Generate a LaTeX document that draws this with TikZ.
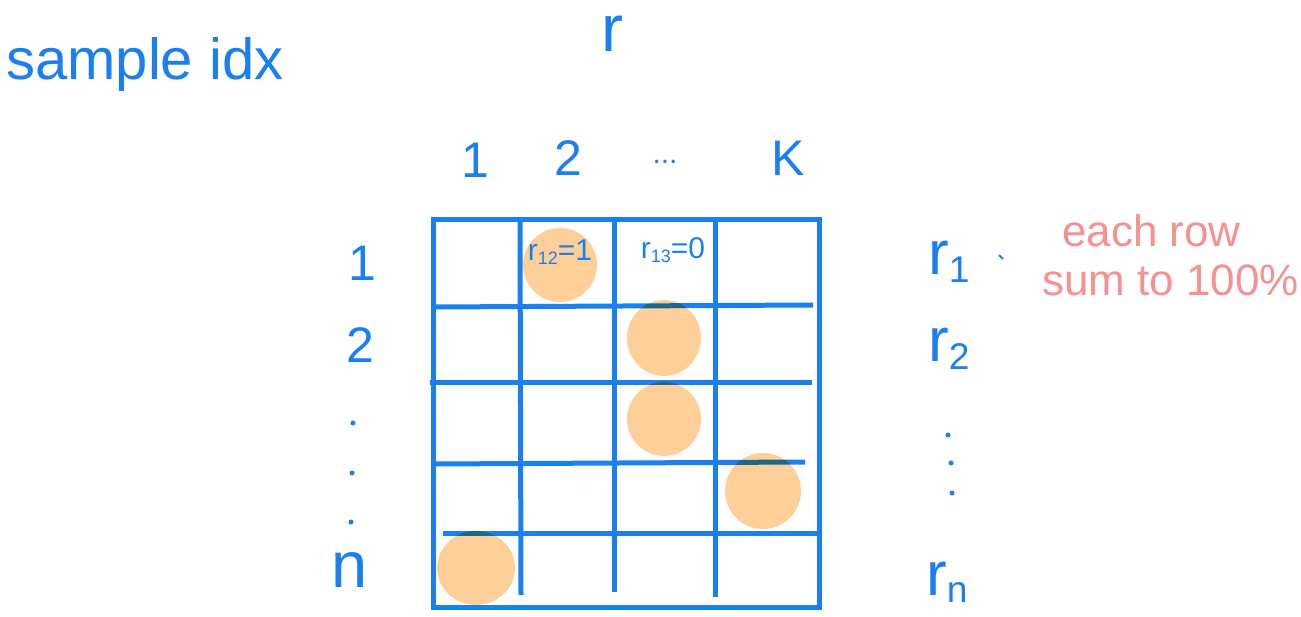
\documentclass[tikz,border=0pt]{standalone}
\usepackage{fontspec}
\setmainfont{Liberation Sans}
\definecolor{penblue}{HTML}{1A7FF0}
\definecolor{penred}{HTML}{F79191}
\definecolor{blob}{HTML}{FFCF99}
\newcommand\rix[1]{r\raisebox{-0.12em}{\scalebox{0.6}{#1}}}
\begin{document}
\begin{tikzpicture}[x=1pt, y=-1pt,
  ink/.style={penblue, line width=5pt},
  blobfill/.style={fill=blob, blend mode=multiply},
  lbl/.style={text=penblue, inner sep=0pt, font=\fontsize{#1}{#1}\selectfont},
  note/.style={text=penred, inner sep=0pt, anchor=base west, font=\fontsize{44}{44}\selectfont}]
\useasboundingbox (0,0) rectangle (1301,617);
% grid of r
\draw[ink] (433,220) rectangle (819,607);
\draw[ink] (520,220) -- (521,595);
\draw[ink] (614,220) -- (614,592);
\draw[ink] (715,220) -- (715,597);
\draw[ink] (433,307) -- (813,305);
\draw[ink] (430,383) -- (812,383);
\draw[ink] (433,464) -- (805,462);
\draw[ink] (443,533) -- (819,533);
% one hot cells
\fill[blobfill] (560,265) ellipse (37 and 37);
\fill[blobfill] (664,338) ellipse (37 and 38);
\fill[blobfill] (664,419) ellipse (37 and 37);
\fill[blobfill] (763,491) ellipse (38 and 38);
\fill[blobfill] (476,568) ellipse (39 and 37);
\node[lbl=30] (r12) at (560,252) {\rix{12}=1};
\node[lbl=30] (r13) at (673,250) {\rix{13}=0};
% titles
\node[lbl=58, anchor=base west] (title) at (6,80) {sample idx};
\node[lbl=66, anchor=base] (rtop) at (612,52) {r};
% column index
\node[lbl=50] (c1) at (475,160) {1};
\node[lbl=50] (c2) at (568,158) {2};
\node[lbl=30] (cdots) at (665,162) {...};
\node[lbl=50] (cK) at (788,158) {K};
% row index
\node[lbl=50] (i1) at (362,263) {1};
\node[lbl=50] (i2) at (360,345) {2};
\foreach \y/\x in {423/353, 473/352, 522/351}
  \fill[penblue] (\x,\y) circle (2.5);
\node[lbl=65] (in) at (350,570) {n};
% rows of r
\node[lbl=62, anchor=base west] (r1) at (928,275) {\rix{1}};
\draw[penblue, line width=2pt] (999,255) -- (1003,259);
\node[lbl=62, anchor=base west] (r2) at (928,362) {\rix{2}};
\foreach \y/\x in {435/948, 463/951, 493/952}
  \fill[penblue] (\x,\y) circle (2.5);
\node[lbl=62, anchor=base west] (rn) at (926,595) {\rix{n}};
% constraint
\node[note] (each) at (1062,247) {each row};
\node[note] (sum) at (1042,296) {sum to 100\%};
\end{tikzpicture}
\end{document}
